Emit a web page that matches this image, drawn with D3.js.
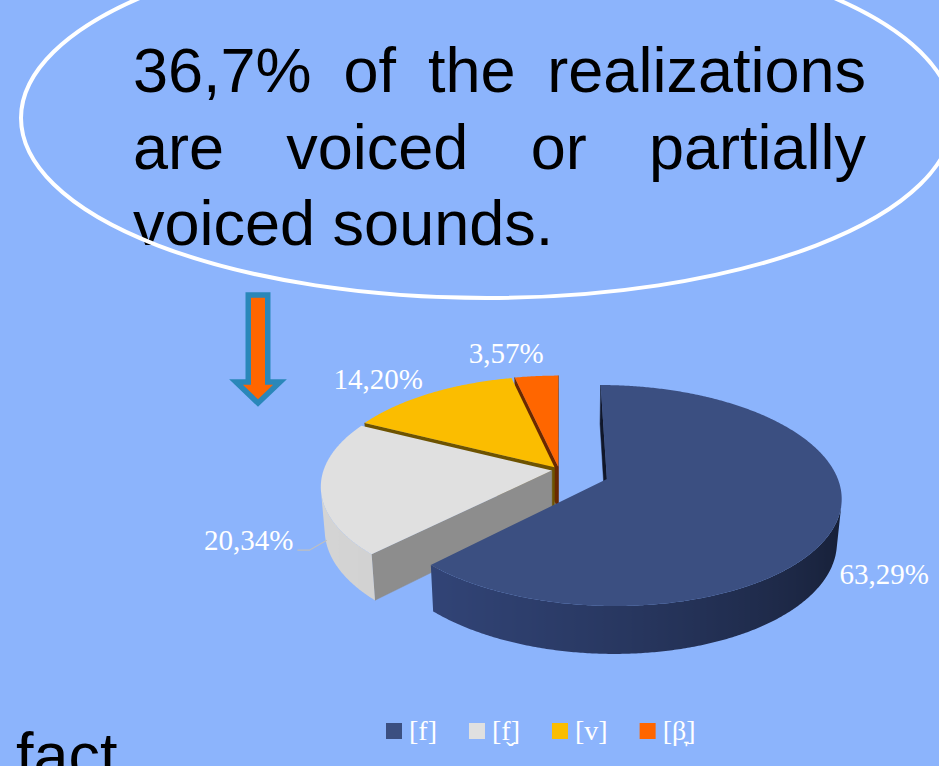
<!DOCTYPE html>
<html><head><meta charset="utf-8">
<script src="https://cdn.jsdelivr.net/npm/d3@7"></script>
<style>html,body{margin:0;padding:0;background:#8cb4fc;overflow:hidden}</style>
</head><body><svg id="c" width="939" height="766"></svg>
<script>
// ---- data ----
const categories = ["[f]", "[f\u032C]", "[v]", "[\u03B2\u031E]"];
const values = [63.29, 20.34, 14.20, 3.57];
const calloutLines = ["36,7% of the realizations", "are voiced or partially", "voiced sounds."];
const footerText = "fact";

// ---- styles ----
const topColors = ["#3b4f81", "#e0e0e0", "#fbbd00", "#ff6600"];
const sideLight = ["#33467a", "#d4d4d4", "#c99800", "#cc5200"];
const sideDark  = ["#141c31", "#a9a9a9", "#7a5c00", "#6b2a00"];
const cutColors = ["#10172a", "#8d8d8d", "#6e5300", "#6a2900"];
const explode = [0.224, 0.032, 0.032, 0.032];
const fmt = v => d3.format(".2f")(v).replace(".", ",") + "%";

const svg = d3.select("#c");
const defs = svg.append("defs");
svg.append("rect").attr("width", 939).attr("height", 766).attr("fill", "#8cb4fc");

// ---- callout text (justified) ----
const sansFam = "'Liberation Sans', Arial, sans-serif";
const tg = svg.append("g").attr("font-family", sansFam).attr("font-size", 63).attr("fill", "#000");
const tx0 = 133, tx1 = 866;
calloutLines.forEach((line, li) => {
  const y = 92 + li * 76.5;
  const words = line.split(" ");
  const justify = li < calloutLines.length - 1;
  const texts = words.map(w => tg.append("text").attr("y", y).text(w));
  const widths = texts.map(t => t.node().getComputedTextLength());
  const gap = justify ? (tx1 - tx0 - d3.sum(widths)) / (words.length - 1) : 63 * 0.278;
  let x = tx0;
  texts.forEach((t, k) => { t.attr("x", x); x += widths[k] + gap; });
});
svg.append("ellipse").attr("cx", 487).attr("cy", 118).attr("rx", 466).attr("ry", 180)
  .attr("fill", "none").attr("stroke", "#fff").attr("stroke-width", 4);

// ---- arrow ----
{
  const ax = 258, top = 295, sh = 9.75, hb = 382, hh = 22, tip = 403;
  const pts = [[ax - sh, top], [ax + sh, top], [ax + sh, hb], [ax + hh, hb], [ax, tip], [ax - hh, hb], [ax - sh, hb]];
  svg.append("path").attr("d", d3.line()(pts) + "Z").attr("fill", "#ff6600")
    .attr("stroke", "#2a87b9").attr("stroke-width", 5.5).attr("stroke-linejoin", "miter");
}

// ---- 3D pie ----
const cam = {cx: 559, cy: 470, f: 1378, D: 6.04, a: 27.5 * Math.PI / 180, h: 0.214};
const ca = Math.cos(cam.a), sa = Math.sin(cam.a);
function P(X, Y, Z) {
  const yp = Y * ca + Z * sa;
  const depth = Z * ca - Y * sa + cam.D;
  return [cam.cx + cam.f * X / depth, cam.cy - cam.f * yp / depth];
}
const camPos = [0, cam.D * sa, -cam.D * ca];
function facing(n, p) {
  return n[0] * (camPos[0] - p[0]) + n[1] * (camPos[2] - p[2]) > 0;
}
const arcs = d3.pie().sort(null).value(d => d)(values);
const slices = arcs.map((a, i) => {
  const mid = (a.startAngle + a.endAngle) / 2;
  return {...a, i, mid, ox: explode[i] * Math.sin(mid), oz: explode[i] * Math.cos(mid)};
});
const lightDir = (() => { const l = [-0.9, -0.3]; const m = Math.hypot(...l); return [l[0] / m, l[1] / m]; })();
const pg = svg.append("g");
const order = slices.slice().sort((a, b) =>
  (b.oz + 0.5 * Math.cos(b.mid)) - (a.oz + 0.5 * Math.cos(a.mid)));
const h = cam.h;
order.forEach(s => {
  const g = pg.append("g");
  const W = (r, th, Y) => [s.ox + r * Math.sin(th), Y, s.oz + r * Math.cos(th)];
  const PP = (r, th, Y) => P(...W(r, th, Y));
  const poly = pts => d3.line()(pts) + "Z";
  // cut faces
  const faces = [
    {th: s.startAngle, n: [-Math.cos(s.startAngle), Math.sin(s.startAngle)]},
    {th: s.endAngle, n: [Math.cos(s.endAngle), -Math.sin(s.endAngle)]}
  ];
  faces.forEach(fc => {
    const c = W(0.5, fc.th, -h / 2);
    if (!facing(fc.n, c)) return;
    g.append("path").attr("d", poly([PP(0, 0, 0), PP(1, fc.th, 0), PP(1, fc.th, -h), PP(0, 0, -h)]))
      .attr("fill", cutColors[s.i]).attr("stroke", cutColors[s.i]).attr("stroke-width", 0.5);
  });
  // outer side as one polygon with horizontal gradient
  const n = Math.max(4, Math.ceil((s.endAngle - s.startAngle) / (Math.PI / 360)));
  const col = d3.interpolateRgb(sideDark[s.i], sideLight[s.i]);
  const vis = [];
  for (let k = 0; k <= n; k++) {
    const t = s.startAngle + (s.endAngle - s.startAngle) * k / n;
    if (facing([Math.sin(t), Math.cos(t)], W(1, t, -h / 2))) vis.push(t);
  }
  if (vis.length > 1) {
    const topPts = vis.map(t => PP(1, t, 0));
    const botPts = vis.map(t => PP(1, t, -h)).reverse();
    const xs = topPts.map(p => p[0]);
    const x0 = d3.min(xs), x1 = d3.max(xs);
    const gid = "side" + s.i;
    const grad = defs.append("linearGradient").attr("id", gid).attr("gradientUnits", "userSpaceOnUse")
      .attr("x1", x0).attr("x2", x1).attr("y1", 0).attr("y2", 0);
    const stops = vis.map((t, k) => {
      const dl = Math.sin(t) * lightDir[0] + Math.cos(t) * lightDir[1];
      return {o: (xs[k] - x0) / Math.max(1e-6, x1 - x0), c: col((dl + 1) / 2)};
    }).sort((a, b) => a.o - b.o);
    stops.forEach(st => grad.append("stop").attr("offset", st.o).attr("stop-color", st.c));
    g.append("path").attr("d", poly(topPts.concat(botPts))).attr("fill", `url(#${gid})`);
  }
  // top face
  const tp = [PP(0, 0, 0)];
  const m = Math.ceil((s.endAngle - s.startAngle) / (Math.PI / 360));
  for (let k = 0; k <= m; k++) tp.push(PP(1, s.startAngle + (s.endAngle - s.startAngle) * k / m, 0));
  g.append("path").attr("d", poly(tp)).attr("fill", topColors[s.i]);
});

// ---- data labels ----
const serifFam = "'Liberation Serif', 'Times New Roman', serif";
const lbl = svg.append("g").attr("font-family", serifFam).attr("font-size", 29).attr("fill", "#fff");
const center = P(0, 0, 0);
const labelNudge = [[5, 3], [-27, 7], [-8, -4], [-20, -6]];
slices.forEach(s => {
  const Y = Math.cos(s.mid) > 0 ? 0 : -h;
  const rim = P(s.ox + Math.sin(s.mid), Y, s.oz + Math.cos(s.mid));
  const t = lbl.append("text").attr("text-anchor", "middle").text(fmt(s.value));
  const w = t.node().getComputedTextLength(), hg = 20, gp = 6;
  let ux = rim[0] - center[0], uy = rim[1] - center[1];
  const um = Math.hypot(ux, uy); ux /= um; uy /= um;
  const cx = rim[0] + ux * (w / 2 + gp) + labelNudge[s.i][0];
  const cy = rim[1] + uy * (hg / 2 + gp) + labelNudge[s.i][1];
  t.attr("x", cx).attr("y", cy + hg / 2 - 2);
  const right = cx + w / 2;
  if (rim[0] - right > 30) {
    svg.append("path").attr("d", d3.line()([[right + 4, cy + hg / 2 - 2], [right + 16, cy + hg / 2 - 2], [rim[0] + 2, rim[1] + 9]]))
      .attr("fill", "none").attr("stroke", "#bfbfbf").attr("stroke-width", 1.2);
  }
});

// ---- legend ----
const lg = svg.append("g").attr("font-family", serifFam).attr("font-size", 28).attr("fill", "#fff");
let lx = 386;
categories.forEach((c, i) => {
  lg.append("rect").attr("x", lx).attr("y", 723).attr("width", 16).attr("height", 16).attr("fill", topColors[i]);
  const t = lg.append("text").attr("x", lx + 23).attr("y", 740).text(c);
  lx += 23 + t.node().getComputedTextLength() + 32;
});

// ---- footer ----
svg.append("text").attr("x", 16).attr("y", 777).attr("font-family", sansFam).attr("font-size", 63)
  .attr("fill", "#000").text(footerText);
</script>
</body></html>
